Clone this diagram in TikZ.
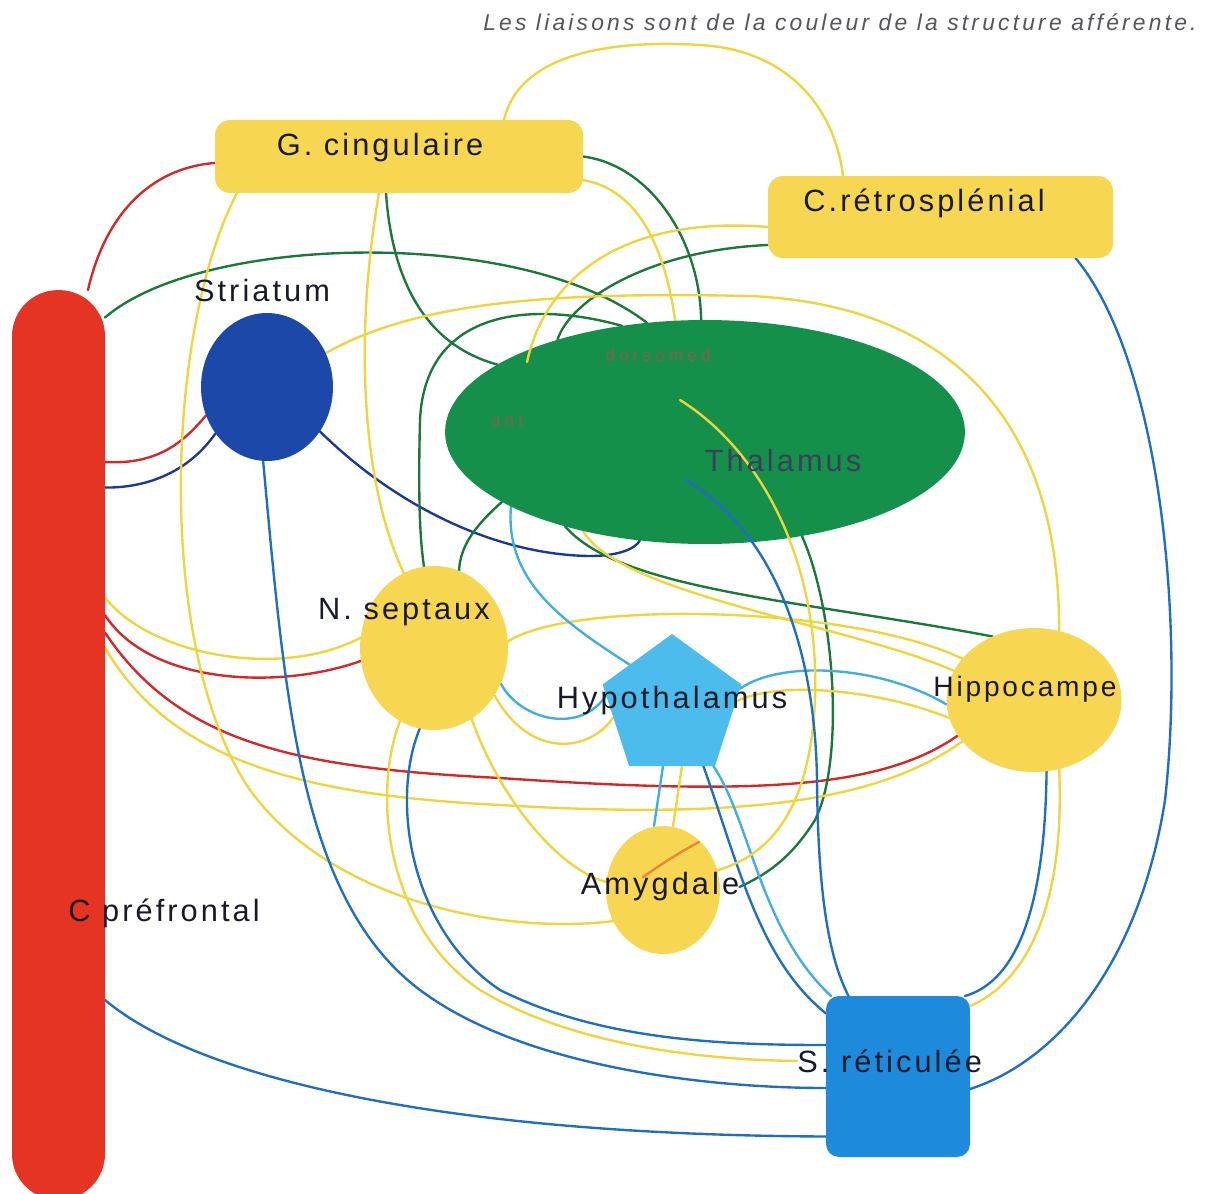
\documentclass[tikz,border=0pt]{standalone}
\usepackage{fontspec}
\setmainfont{Liberation Sans}
\newfontfamily\labfont[LetterSpace=10]{Liberation Sans}
\newfontfamily\titfont[LetterSpace=14]{Liberation Sans}
\newfontfamily\smallfont[LetterSpace=22]{Liberation Sans}
\usetikzlibrary{shapes.geometric,calc}
\definecolor{lnY}{RGB}{240,212,62}
\definecolor{yelF}{RGB}{247,214,82}
\definecolor{redF}{RGB}{229,52,36}
\definecolor{lnR}{RGB}{214,38,40}
\definecolor{strF}{RGB}{28,72,170}
\definecolor{lnDB}{RGB}{26,56,150}
\definecolor{thalF}{RGB}{20,144,74}
\definecolor{lnG}{RGB}{26,120,56}
\definecolor{hypF}{RGB}{76,188,236}
\definecolor{lnLB}{RGB}{64,174,226}
\definecolor{sretF}{RGB}{30,138,219}
\definecolor{lnB}{RGB}{30,110,196}
\definecolor{txt}{RGB}{24,26,40}
\definecolor{thalTxt}{RGB}{58,64,92}
\definecolor{subTxt}{RGB}{130,96,84}
\definecolor{titTxt}{RGB}{85,85,90}
\pgfdeclarelayer{bg}
\pgfsetlayers{bg,main}
\begin{document}
\begin{tikzpicture}[x=0.02cm,y=-0.02cm,
  shp/.style={inner sep=0pt,outer sep=0pt,draw=none},
  ybox/.style={shp,rectangle,rounded corners=0.3cm,fill=yelF},
  lab/.style={font=\labfont\fontsize{17.5}{20}\selectfont,text=txt,inner sep=0pt},
  sub/.style={font=\smallfont\fontsize{10}{12}\selectfont,text=subTxt,inner sep=0pt},
  conn/.style={line width=1.35pt,line cap=round},
  ly/.style={conn,draw=lnY},
  lr/.style={conn,draw=lnR},
  ldb/.style={conn,draw=lnDB},
  lg/.style={conn,draw=lnG},
  llb/.style={conn,draw=lnLB},
  lbl/.style={conn,draw=lnB}]
\useasboundingbox (0,0) rectangle (1206,1193);
% ---------- structures
\node[shp,rectangle,rounded corners=0.92cm,fill=redF,minimum width=1.86cm,minimum height=18.2cm] (pref) at (58.5,745) {};
\node[ybox,minimum width=7.36cm,minimum height=1.46cm] (gc) at (399,156.5) {};
\node[ybox,minimum width=6.9cm,minimum height=1.64cm] (rs) at (940.5,217) {};
\node[shp,ellipse,fill=strF,minimum width=2.64cm,minimum height=2.96cm] (str) at (267,387) {};
\node[shp,ellipse,fill=thalF,minimum width=10.4cm,minimum height=4.48cm] (thal) at (705,432) {};
\node[shp,ellipse,fill=yelF,minimum width=2.96cm,minimum height=3.28cm] (nsep) at (434,648) {};
\node[shp,regular polygon,regular polygon sides=5,fill=hypF,minimum size=2.92cm] (hypo) at (672,707) {};
\node[shp,ellipse,fill=yelF,minimum width=3.5cm,minimum height=2.88cm] (hippo) at (1034,700) {};
\node[shp,ellipse,fill=yelF,minimum width=2.28cm,minimum height=2.56cm] (amy) at (663,890) {};
\node[shp,rectangle,rounded corners=0.26cm,fill=sretF,minimum width=2.88cm,minimum height=3.22cm] (sret) at (898,1076.5) {};
% ---------- labels (named, used as ends)
\node[lab] (gcl) at (380,148) {G. cingulaire};
\node[lab,anchor=west] (rsl) at (803,203) {C.rétrosplénial};
\node[lab] (strl) at (262,291) {Striatum};
\node[lab] (nsepl) at (404,612) {N. septaux};
\node[lab] (hypol) at (672,701) {Hypothalamus};
\node[lab,font=\labfont\fontsize{16}{18}\selectfont] (hippol) at (1025,689) {Hippocampe};
\node[lab] (amyl) at (660,887) {Amygdale};
\node[lab,anchor=west] (sretl) at (797,1061) {S. réticulée};
\node[lab,anchor=west] (prefl) at (68,913) {C préfrontal};
\node[anchor=east,inner sep=0pt,text=titTxt,font=\titfont\itshape\fontsize{13}{15}\selectfont] (title) at (1197,22) {Les liaisons sont de la couleur de la structure afférente.};
% ---------- connectors behind the structures
\begin{pgfonlayer}{bg}
% red
\draw[lr] ([xshift=0.59cm]pref.north) .. controls (105,215) and (150,168) .. (gc.182);
\draw[lr] ([yshift=5.66cm]pref.east) .. controls (160,465) and (185,440) .. (str.205);
\draw[lr] ([yshift=2.6cm]pref.east) .. controls (150,685) and (280,690) .. (nsep.190);
\draw[lr] ([yshift=2.25cm]pref.east) .. controls (180,745) and (300,768) .. (500,778) .. controls (750,795) and (880,790) .. (hippo.205);
% dark blue (striatum)
\draw[ldb] (str.222) .. controls (190,470) and (150,488) .. ([yshift=5.15cm]pref.east);
\draw[ldb] (str.320) .. controls (400,510) and (500,555) .. (590,556) .. controls (620,556) and (636,548) .. (thal.-121);
% green (thalamus)
\draw[lg] ([yshift=8.55cm]pref.east) .. controls (200,235) and (520,225) .. (thal.118);
\draw[lg] ([xshift=-0.26cm]gc.south) .. controls (392,280) and (425,345) .. (thal.162);
\draw[lg] (gc.east) .. controls (650,165) and (700,240) .. (thal.92);
\draw[lg] ([yshift=-0.56cm]rs.west) .. controls (650,250) and (570,300) .. (thal.148);
\draw[lg] (thal.128) .. controls (530,300) and (425,310) .. (420,420) .. controls (418,500) and (420,540) .. (nsep.97);
\draw[lg] (thal.199) .. controls (470,530) and (460,550) .. (nsep.72);
\draw[lg] (thal.-146) .. controls (620,590) and (800,600) .. (hippo.123);
\draw[lg] (thal.-47) .. controls (835,610) and (845,760) .. (815,820) .. controls (790,860) and (765,875) .. (amyl.east);
% yellow
\draw[ly] ([xshift=2.1cm]gc.north) .. controls (520,50) and (620,40) .. (700,45) .. controls (790,50) and (835,110) .. ([xshift=-1.95cm]rs.north);
\draw[ly] ([xshift=-3.24cm]gc.south) .. controls (165,330) and (155,650) .. (250,790) .. controls (330,900) and (500,935) .. (amy.212);
\draw[ly] ([xshift=-0.4cm]gc.south) .. controls (355,330) and (360,480) .. (nsep.112);
\draw[ly] ([yshift=-0.47cm]gc.east) .. controls (640,190) and (665,250) .. (thal.105);
\draw[ly] (str.30) .. controls (420,300) and (560,292) .. (750,296) .. controls (950,305) and (1060,420) .. (hippo.70);
\draw[ly] (thal.-141) .. controls (620,595) and (850,625) .. (hippo.160);
\draw[ly] (nsep.5) .. controls (570,600) and (850,605) .. (hippo.150);
\draw[ly] (hippo.192) .. controls (880,690) and (780,680) .. (hypo.5);
\draw[ly] (hippo.210) .. controls (880,800) and (750,820) .. (500,805) .. controls (300,795) and (170,760) .. ([yshift=1.95cm]pref.east);
\draw[ly] (nsep.172) .. controls (280,680) and (150,655) .. ([yshift=2.95cm]pref.east);
\draw[ly] (nsep.-38) .. controls (530,760) and (590,752) .. (hypo.190);
\draw[ly] ([xshift=0.2cm]amy.north) -- ([xshift=0.2cm]hypo.south);
\draw[ly] (nsep.-62) .. controls (500,800) and (560,870) .. (amy.172);
\draw[ly] (nsep.-115) .. controls (370,800) and (390,930) .. (480,990) .. controls (580,1050) and (720,1060) .. (sretl.west);
\draw[ly] (hippo.-70) .. controls (1065,900) and (1030,980) .. ([yshift=-0.2cm]sret.north east);
% light blue (hypothalamus)
\draw[llb] (hypo.135) .. controls (560,620) and (505,580) .. (thal.201);
\draw[llb] (hypo.15) .. controls (780,660) and (880,665) .. (hippo.183);
\draw[llb] (hypo.170) .. controls (580,735) and (520,720) .. (nsep.-28);
\draw[llb] ([xshift=-0.18cm]hypo.south) -- ([xshift=-0.18cm]amy.north);
\draw[llb] (hypo.-55) .. controls (750,820) and (760,930) .. ([xshift=0.1cm]sret.north west);
% blue (S. reticulee)
\draw[lbl] (str.-93) .. controls (285,700) and (300,900) .. (420,990) .. controls (520,1065) and (700,1088) .. ([yshift=-0.23cm]sret.west);
\draw[lbl] ([yshift=-5.1cm]pref.east) .. controls (200,1080) and (450,1135) .. ([yshift=-1.2cm]sret.west);
\draw[lbl] (nsep.-100) .. controls (390,800) and (410,930) .. (500,990) .. controls (600,1040) and (720,1045) .. ([yshift=0.63cm]sret.west);
\draw[lbl] (hypo.-62) .. controls (740,870) and (760,960) .. ([yshift=-0.35cm]sret.north west);
\draw[lbl] ([xshift=2.7cm]rs.south) .. controls (1160,360) and (1185,620) .. (1165,800) .. controls (1140,960) and (1060,1060) .. ([yshift=-0.25cm]sret.east);
\draw[lbl] (hippo.-80) .. controls (1045,900) and (1020,980) .. ([xshift=-0.1cm]sret.north east);
\end{pgfonlayer}
% ---------- connectors drawn over the thalamus
\draw[ly] ([yshift=-0.2cm]rs.west) .. controls (620,215) and (545,280) .. ($(thal.center)+(-178,-70)$);
\draw[ly] ($(thal.center)+(-25,-32)$) .. controls (760,450) and (820,560) .. (815,700) .. controls (810,810) and (770,855) .. (amy.20);
\draw[lbl] ($(thal.center)+(-19,48)$) .. controls (770,530) and (815,640) .. (817,780) .. controls (818,900) and (830,960) .. ([xshift=0.45cm]sret.north west);
\draw[conn,draw=lnR,opacity=0.45] ($(amy.center)+(-20,-13)$) .. controls (660,865) and (680,852) .. ($(amy.center)+(36,-48)$);
% ---------- thalamus labels
\node[lab,text=thalTxt] (thall) at (783,461) {Thalamus};
\node[sub] (dml) at (658,355) {dorsomed};
\node[sub] (antl) at (507,421) {ant};
\end{tikzpicture}
\end{document}
